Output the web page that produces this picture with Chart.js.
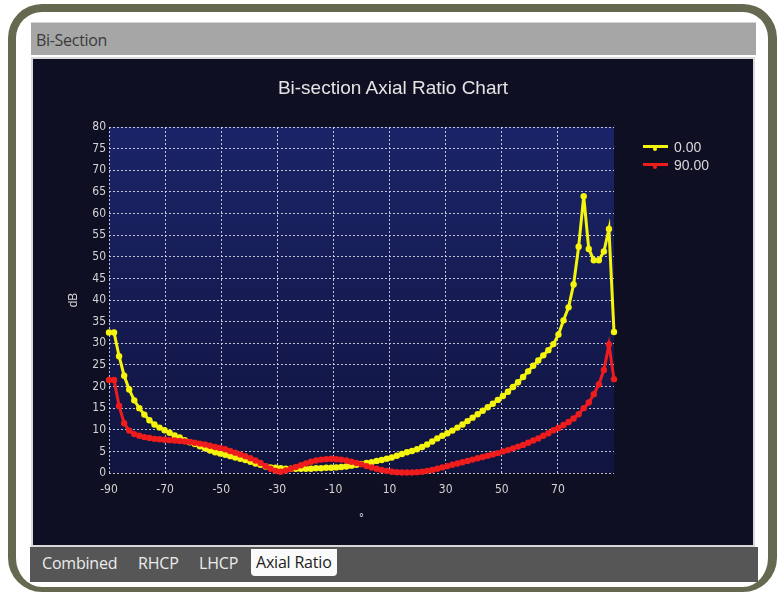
<!DOCTYPE html>
<html>
<head>
<meta charset="utf-8">
<title>Bi-section Axial Ratio Chart</title>
<script src="https://cdn.jsdelivr.net/npm/chart.js@4/dist/chart.umd.min.js"></script>
<style>
  html, body { margin: 0; padding: 0; background: #fff; }
  body { width: 778px; height: 594px; position: relative; overflow: hidden; font-family: "Liberation Sans", Arial, sans-serif; }
  .frame { position: absolute; left: 8px; top: 4px; width: 752px; height: 575px; border: solid #666950; border-width: 8px 9px 5px 8px; border-radius: 34px; }
  .titlebar { position: absolute; left: 31px; top: 22px; width: 725px; height: 33px; background: #a6a6a6; border-top: 1px solid #d4d4d4; box-sizing: border-box; }
  .titlebar span { position: absolute; left: 5px; top: 6px; font: 16px "Open Sans", sans-serif; color: #3a3a3a; letter-spacing: -0.3px; }
  .panel { position: absolute; left: 31px; top: 57px; width: 720px; height: 486px; border: 2px solid #d9d9d9; background: #0e0f23; }
  .tabs { position: absolute; left: 30px; top: 547px; width: 728px; height: 35px; background: #565656; }
  .tab { position: absolute; top: 5px; font: 16px "Open Sans", sans-serif; color: #ececec; letter-spacing: -0.2px; }
  .tab.on { top: 2px; padding: 2px 5px 3px 5px; background: #fafafa; color: #222; border-radius: 0 0 4px 4px; }
  .title { position: absolute; left: 33px; width: 720px; top: 77px; text-align: center; font: 19px "Liberation Sans", Arial, sans-serif; color: #e4e4e4; }
  .legend { position: absolute; left: 643px; top: 138px; font: 14px "Liberation Sans", Arial, sans-serif; color: #d8d8d8; }
  .legend div { height: 18px; line-height: 18px; position: relative; padding-left: 31px; }
  .legend i { position: absolute; left: 0; top: 7px; width: 25px; height: 3px; }
  .legend b { position: absolute; left: 10px; top: 9px; width: 4px; height: 4px; border-radius: 2px; }
  canvas { position: absolute; left: 33px; top: 59px; }
</style>
</head>
<body>
<div class="frame"></div>
<div class="titlebar"><span>Bi-Section</span></div>
<div class="panel"></div>
<canvas id="arChart" width="720" height="486"></canvas>
<div class="title">Bi-section Axial Ratio Chart</div>
<div class="legend" id="legend"></div>
<div class="tabs">
  <span class="tab" style="left:12px">Combined</span>
  <span class="tab" style="left:108px">RHCP</span>
  <span class="tab" style="left:169px">LHCP</span>
  <span class="tab on" style="left:221px">Axial Ratio</span>
</div>

<script>
// angle (deg) of each sample
const angles = [
  -90, -88.2, -86.4, -84.6, -82.8, -81, -79.2, -77.4, -75.6, -73.8,
  -72, -70.2, -68.4, -66.6, -64.8, -63, -61.2, -59.4, -57.6, -55.8,
  -54, -52.2, -50.4, -48.6, -46.8, -45, -43.2, -41.4, -39.6, -37.8,
  -36, -34.2, -32.4, -30.6, -28.8, -27, -25.2, -23.4, -21.6, -19.8,
  -18, -16.2, -14.4, -12.6, -10.8, -9, -7.2, -5.4, -3.6, -1.8,
  0, 1.8, 3.6, 5.4, 7.2, 9, 10.8, 12.6, 14.4, 16.2,
  18, 19.8, 21.6, 23.4, 25.2, 27, 28.8, 30.6, 32.4, 34.2,
  36, 37.8, 39.6, 41.4, 43.2, 45, 46.8, 48.6, 50.4, 52.2,
  54, 55.8, 57.6, 59.4, 61.2, 63, 64.8, 66.6, 68.4, 70.2,
  72, 73.8, 75.6, 77.4, 79.2, 81, 82.8, 84.6, 86.4, 88.2, 90
];

// axial ratio, dB, cut at phi = 0.00
const ar0 = [
  32.5, 32.5, 27, 22.5, 19.3, 16.8, 15, 13.5, 12.2, 11.2,
  10.5, 9.9, 9.3, 8.7, 8.2, 7.6, 7.1, 6.7, 6.2, 5.7,
  5.2, 4.8, 4.5, 4.2, 3.9, 3.6, 3.3, 3.0, 2.6, 2.2,
  1.9, 1.5, 1.3, 1.2, 1.1, 1.0, 1.0, 1.0, 1.0, 1.0,
  1.0, 1.1, 1.1, 1.2, 1.2, 1.3, 1.4, 1.5, 1.7, 1.9,
  2.1, 2.3, 2.5, 2.8, 3.0, 3.3, 3.6, 4.0, 4.4, 4.8,
  5.1, 5.5, 6.0, 6.6, 7.3, 8.0, 8.6, 9.2, 9.8, 10.5,
  11.2, 12.0, 12.8, 13.6, 14.4, 15.2, 16.0, 16.9, 17.8, 18.8,
  19.9, 21.0, 22.2, 23.5, 24.8, 26.0, 27.2, 28.4, 29.8, 32.0,
  35.3, 38.3, 43.6, 52.3, 64.0, 51.8, 49.2, 49.2, 51.2, 56.4, 32.6
];

// axial ratio, dB, cut at phi = 90.00
const ar90 = [
  21.5, 21.5, 15.5, 11.5, 9.8, 9.0, 8.6, 8.3, 8.1, 7.9,
  7.8, 7.7, 7.6, 7.5, 7.4, 7.3, 7.2, 7.0, 6.8, 6.6,
  6.3, 6.0, 5.8, 5.5, 5.1, 4.7, 4.3, 3.9, 3.4, 2.9,
  2.3, 1.6, 1.0, 0.5, 0.3, 0.6, 1.0, 1.4, 1.8, 2.2,
  2.6, 2.9, 3.1, 3.2, 3.3, 3.2, 3.1, 2.9, 2.6, 2.3,
  2.0, 1.6, 1.3, 1.0, 0.7, 0.5, 0.3, 0.2, 0.1, 0.1,
  0.1, 0.2, 0.3, 0.5, 0.7, 1.0, 1.3, 1.6, 1.9, 2.2,
  2.5, 2.8, 3.1, 3.4, 3.7, 4.0, 4.3, 4.6, 5.0, 5.3,
  5.7, 6.1, 6.5, 7.0, 7.5, 8.0, 8.6, 9.2, 9.9, 10.4,
  11.1, 11.8, 12.6, 13.6, 15.0, 16.3, 18.2, 20.5, 23.8, 29.7, 21.7
];

const seriesNames = ['0.00', '90.00'];
const seriesColors = ['#f4f40c', '#ee1c1c'];
const xTicks = [-90, -70, -50, -30, -10, 10, 30, 50, 70];

const tickFont = { family: "'Liberation Sans Narrow', 'DejaVu Sans Condensed', sans-serif", size: 12 };
const gridDots = { color: 'rgba(225,225,235,0.85)', lineWidth: 1, drawTicks: false };

// navy gradient behind the plot area
const plotBg = {
  id: 'plotBg',
  beforeDraw: (chart) => {
    const { ctx, chartArea: a } = chart;
    const g = ctx.createLinearGradient(0, a.top, 0, a.bottom);
    g.addColorStop(0, '#1b2468');
    g.addColorStop(1, '#10143f');
    ctx.save();
    ctx.fillStyle = g;
    ctx.fillRect(a.left, a.top, a.right - a.left, a.bottom - a.top);
    ctx.restore();
  }
};

const ctx = document.getElementById('arChart');
const chart = new Chart(ctx, {
  type: 'line',
  data: {
    datasets: [ar0, ar90].map((vals, k) => ({
      label: seriesNames[k],
      data: angles.map((a, i) => ({ x: a, y: vals[i] })),
      borderColor: seriesColors[k],
      backgroundColor: seriesColors[k],
      pointBackgroundColor: seriesColors[k],
      borderWidth: 3,
      pointRadius: 3.2,
      pointBorderWidth: 0,
      tension: 0,
      clip: false
    })).reverse()
  },
  options: {
    responsive: false,
    animation: false,
    layout: { padding: { left: 33, right: 139, top: 68, bottom: 19 } },
    plugins: { legend: { display: false }, tooltip: { enabled: false } },
    scales: {
      x: {
        type: 'linear',
        min: -90,
        max: 90,
        afterBuildTicks: (s) => { s.ticks = xTicks.map(v => ({ value: v })) },
        afterFit: (s) => { s.height = 53 },
        grid: gridDots,
        border: { display: false, dash: [2, 2] },
        ticks: { color: '#d4d4d4', font: tickFont, padding: 10 },
        title: { display: true, text: '°', color: '#d4d4d4', font: tickFont, padding: 0 }
      },
      y: {
        min: 0,
        max: 80,
        afterFit: (s) => { s.width = 43 },
        grid: gridDots,
        border: { display: false, dash: [2, 2] },
        ticks: { stepSize: 5, color: '#d4d4d4', font: tickFont, padding: 3 },
        title: { display: true, text: 'dB', color: '#d4d4d4', font: { family: "'Liberation Sans', sans-serif", size: 12 }, padding: 0 }
      }
    }
  },
  plugins: [plotBg]
});

// legend built from the series names
const legend = document.getElementById('legend');
seriesNames.forEach((name, k) => {
  const row = document.createElement('div');
  row.innerHTML = `<i style="background:${seriesColors[k]}"></i><b style="background:${seriesColors[k]}"></b>${name}`;
  legend.appendChild(row);
});
</script>
</body>
</html>
